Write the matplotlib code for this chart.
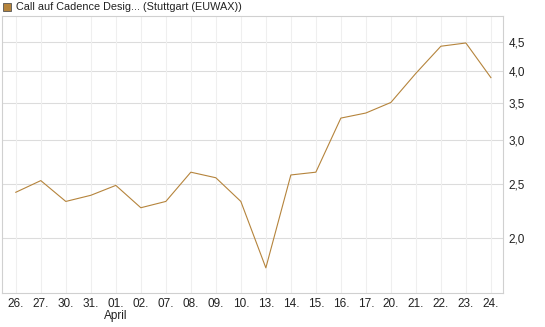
import matplotlib.pyplot as plt
from matplotlib.ticker import FixedLocator, NullLocator
from matplotlib.patches import Rectangle

plt.rcParams['font.family'] = ['Liberation Sans', 'DejaVu Sans']

# data
days = ["26.", "27.", "30.", "31.", "01.", "02.", "07.", "08.", "09.", "10.",
        "13.", "14.", "15.", "16.", "17.", "20.", "21.", "22.", "23.", "24."]
prices = [2.42, 2.54, 2.33, 2.39, 2.49, 2.27, 2.33, 2.63, 2.57, 2.33,
          1.77, 2.60, 2.63, 3.29, 3.36, 3.51, 3.96, 4.43, 4.49, 3.89]
y_ticks = [2.0, 2.5, 3.0, 3.5, 4.0, 4.5]
y_labels = ["2,0", "2,5", "3,0", "3,5", "4,0", "4,5"]
title = "Call auf Cadence Desig... (Stuttgart (EUWAX))"
month_label = "April"
month_index = 4

line_color = "#b5843c"

fig = plt.figure(figsize=(5.45, 3.27), dpi=100)
ax = fig.add_axes([0.0042, 0.104, 0.919, 0.847])

x = list(range(len(days)))
ax.plot(x, prices, color=line_color, linewidth=0.8)

ax.set_yscale("log")
ax.set_ylim(1.595, 5.02)
ax.set_xlim(-0.54, 19.49)

ax.yaxis.set_major_locator(FixedLocator(y_ticks))
ax.yaxis.set_minor_locator(NullLocator())
ax.set_yticklabels(y_labels)
ax.yaxis.tick_right()
ax.tick_params(axis="y", length=0, pad=4, labelsize=8.5, colors="#222222")

ax.set_xticks(x)
ax.set_xticklabels(days)
ax.tick_params(axis="x", length=0, pad=3.5, labelsize=8.5, colors="#222222")

# horizontal grid darker than the vertical one
for v in y_ticks:
    ax.axhline(v, color="#dcdcdc", linewidth=0.8, zorder=0)
for xi in x:
    ax.axvline(xi, color="#efefef", linewidth=0.8, zorder=0)

for s in ax.spines.values():
    s.set_color("#d0d0d0")
    s.set_linewidth(0.8)

ax.text(month_index, -0.083, month_label, transform=ax.get_xaxis_transform(),
        ha="center", va="center", fontsize=8.5, color="#222222")

# legend-like title
fig.patches.append(Rectangle((3 / 545, 1 - 11 / 327), 8 / 545, 8 / 327,
                             transform=fig.transFigure, facecolor="#b5843c",
                             edgecolor="#555555", linewidth=0.6))
fig.text(16 / 545, 1 - 7 / 327, title, ha="left", va="center",
         fontsize=7.8, color="#222222")

fig.savefig("out.png", dpi=100)
